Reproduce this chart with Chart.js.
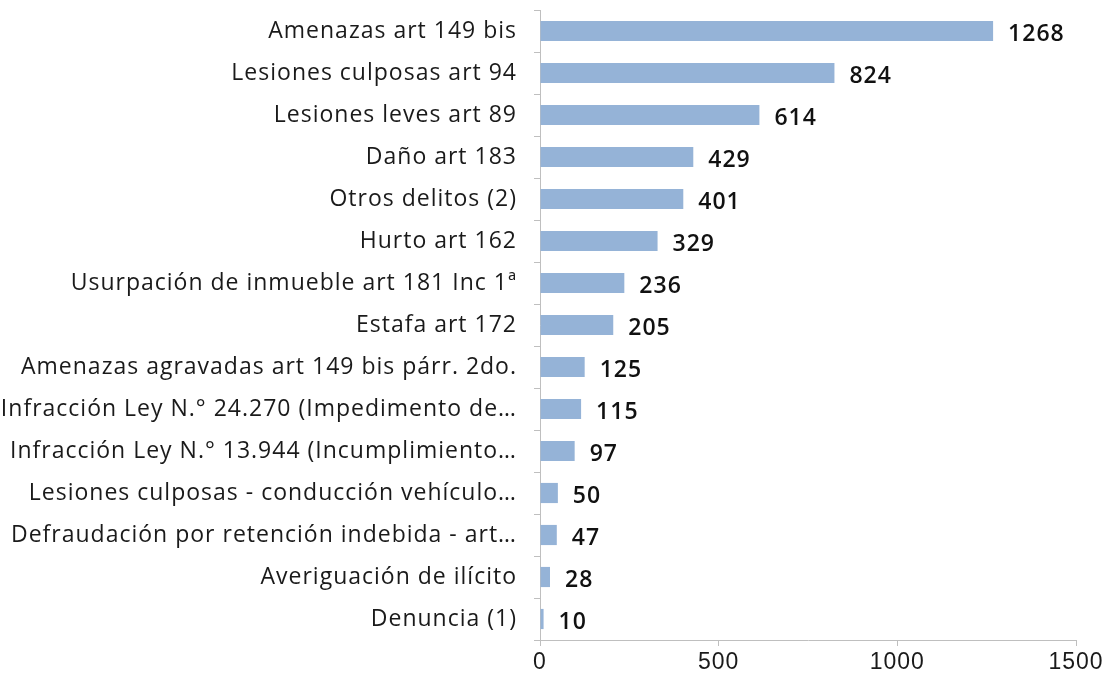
<!DOCTYPE html>
<html><head><meta charset="utf-8">
<script src="https://cdn.jsdelivr.net/npm/chart.js@4/dist/chart.umd.min.js"></script>
<style>html,body{margin:0;padding:0;background:#fff}#wrap{width:1114px;height:684px}</style>
</head><body><div id="wrap"><canvas id="c" width="1114" height="684"></canvas></div>
<script>
const categories = [
  "Amenazas art 149 bis",
  "Lesiones culposas art 94",
  "Lesiones leves art 89",
  "Daño art 183",
  "Otros delitos (2)",
  "Hurto art 162",
  "Usurpación de inmueble art 181 Inc 1ª",
  "Estafa art 172",
  "Amenazas agravadas art 149 bis párr. 2do.",
  "Infracción Ley N.° 24.270 (Impedimento de…",
  "Infracción Ley N.° 13.944 (Incumplimiento…",
  "Lesiones culposas - conducción vehículo…",
  "Defraudación por retención indebida - art…",
  "Averiguación de ilícito",
  "Denuncia (1)"
];
const values = [1268, 824, 614, 429, 401, 329, 236, 205, 125, 115, 97, 50, 47, 28, 10];
const xTicks = [0, 500, 1000, 1500];

const FONT = "'Open Sans', sans-serif";
const spacing = {
  id: 'spacing',
  beforeDraw(chart) { chart.ctx.letterSpacing = '1px'; },
  afterDraw(chart) { chart.ctx.letterSpacing = '0px'; }
};
const valueLabels = {
  id: 'valueLabels',
  afterDatasetsDraw(chart) {
    const ctx = chart.ctx;
    const meta = chart.getDatasetMeta(0);
    ctx.save();
    ctx.letterSpacing = '1px';
    ctx.font = "600 23px " + FONT;
    ctx.fillStyle = '#111111';
    ctx.textAlign = 'left';
    ctx.textBaseline = 'middle';
    meta.data.forEach((bar, i) => {
      ctx.fillText(String(values[i]), bar.x + 15, bar.y + 3);
    });
    ctx.restore();
  }
};

new Chart(document.getElementById('c'), {
  type: 'bar',
  data: {
    labels: categories,
    datasets: [{
      data: values,
      backgroundColor: '#95b3d7',
      borderWidth: 0,
      barPercentage: 0.48,
      categoryPercentage: 1
    }]
  },
  options: {
    indexAxis: 'y',
    responsive: false,
    animation: false,
    devicePixelRatio: 1,
    layout: { padding: { top: 10, right: 38, left: 0, bottom: 0 } },
    plugins: { legend: { display: false }, tooltip: { enabled: false } },
    scales: {
      x: {
        min: 0, max: 1500,
        afterBuildTicks(scale) { scale.ticks = xTicks.map(v => ({ value: v })); },
        afterFit(scale) { scale.height = 44; scale.paddingLeft = 0; scale.paddingRight = 0; },
        grid: { display: true, drawOnChartArea: false, drawTicks: true, tickLength: 6, color: '#bfbfbf' },
        border: { display: true, color: '#bfbfbf', width: 1 },
        ticks: {
          color: '#1a1a1a', font: { family: "'Liberation Sans', Arial, sans-serif", size: 23 },
          padding: 3, maxRotation: 0,
          callback: (v) => String(v)
        }
      },
      y: {
        afterFit(scale) { scale.width = 540; scale.paddingTop = 0; scale.paddingBottom = 0; },
        grid: { display: true, offset: true, drawOnChartArea: false, drawTicks: true, tickLength: 6, color: '#bfbfbf' },
        border: { display: true, color: '#bfbfbf', width: 1 },
        ticks: { color: '#1a1a1a', font: { family: FONT, size: 23 }, padding: 17, autoSkip: false }
      }
    }
  },
  plugins: [spacing, valueLabels]
});
</script>
</body></html>
